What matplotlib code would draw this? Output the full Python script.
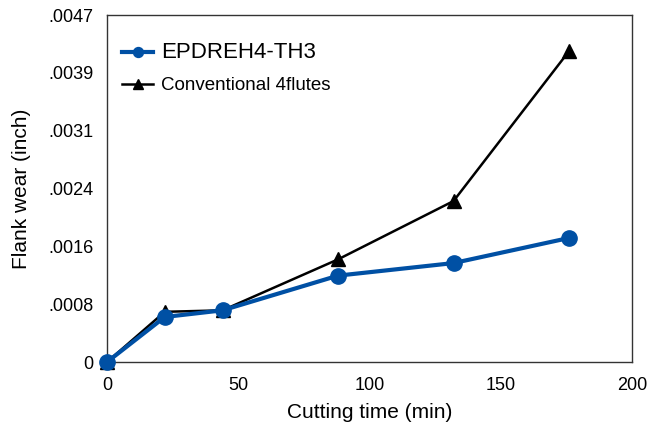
import matplotlib
matplotlib.use("Agg")
import matplotlib.pyplot as plt
from matplotlib.ticker import FixedLocator, FuncFormatter

plt.rcParams['font.family'] = ['Liberation Sans', 'DejaVu Sans']

cutting_time = [0, 22, 44, 88, 132, 176]
epdreh = [0.0, 0.00061, 0.00070, 0.00117, 0.00134, 0.00168]
conventional = [0.0, 0.00068, 0.00070, 0.00139, 0.00218, 0.00421]
series_names = ["EPDREH4-TH3", "Conventional 4flutes"]
ymax = 0.0047

fig = plt.figure(figsize=(6.49, 4.24), dpi=100)
ax = fig.add_axes([0.1649, 0.1462, 0.8089, 0.8184])

ax.plot(cutting_time, conventional, color='black', lw=1.8, marker='^', ms=10,
        label=series_names[1], clip_on=False, zorder=3)
ax.plot(cutting_time, epdreh, color='#0050A4', lw=3, marker='o', ms=11,
        label=series_names[0], clip_on=False, zorder=4)

ax.set_xlim(0, 200)
ax.set_ylim(0, ymax)
ax.set_xticks([0, 50, 100, 150, 200])
ax.yaxis.set_major_locator(FixedLocator([ymax * i / 6 for i in range(7)]))
ax.yaxis.set_major_formatter(FuncFormatter(lambda v, p: "0" if v == 0 else ("%.4f" % v)[1:]))
ax.tick_params(length=0, labelsize=13)
ax.tick_params(axis='x', pad=11)
ax.tick_params(axis='y', pad=10)
ax.set_xlabel("Cutting time (min)", fontsize=15, labelpad=6)
ax.set_ylabel("Flank wear (inch)", fontsize=15, labelpad=12)
for s in ax.spines.values():
    s.set_color('#333333')
    s.set_linewidth(1)

handles, labels = ax.get_legend_handles_labels()
leg = ax.legend(handles[::-1], labels[::-1], loc='upper left', bbox_to_anchor=(0.0, 0.965),
                frameon=False, prop={'size': 12}, handlelength=1.86, handletextpad=0.5,
                labelspacing=0.85, markerscale=0.65)
texts = leg.get_texts()
texts[0].set_fontsize(16)
texts[1].set_fontsize(13.5)

fig.savefig("out.png", dpi=100)
